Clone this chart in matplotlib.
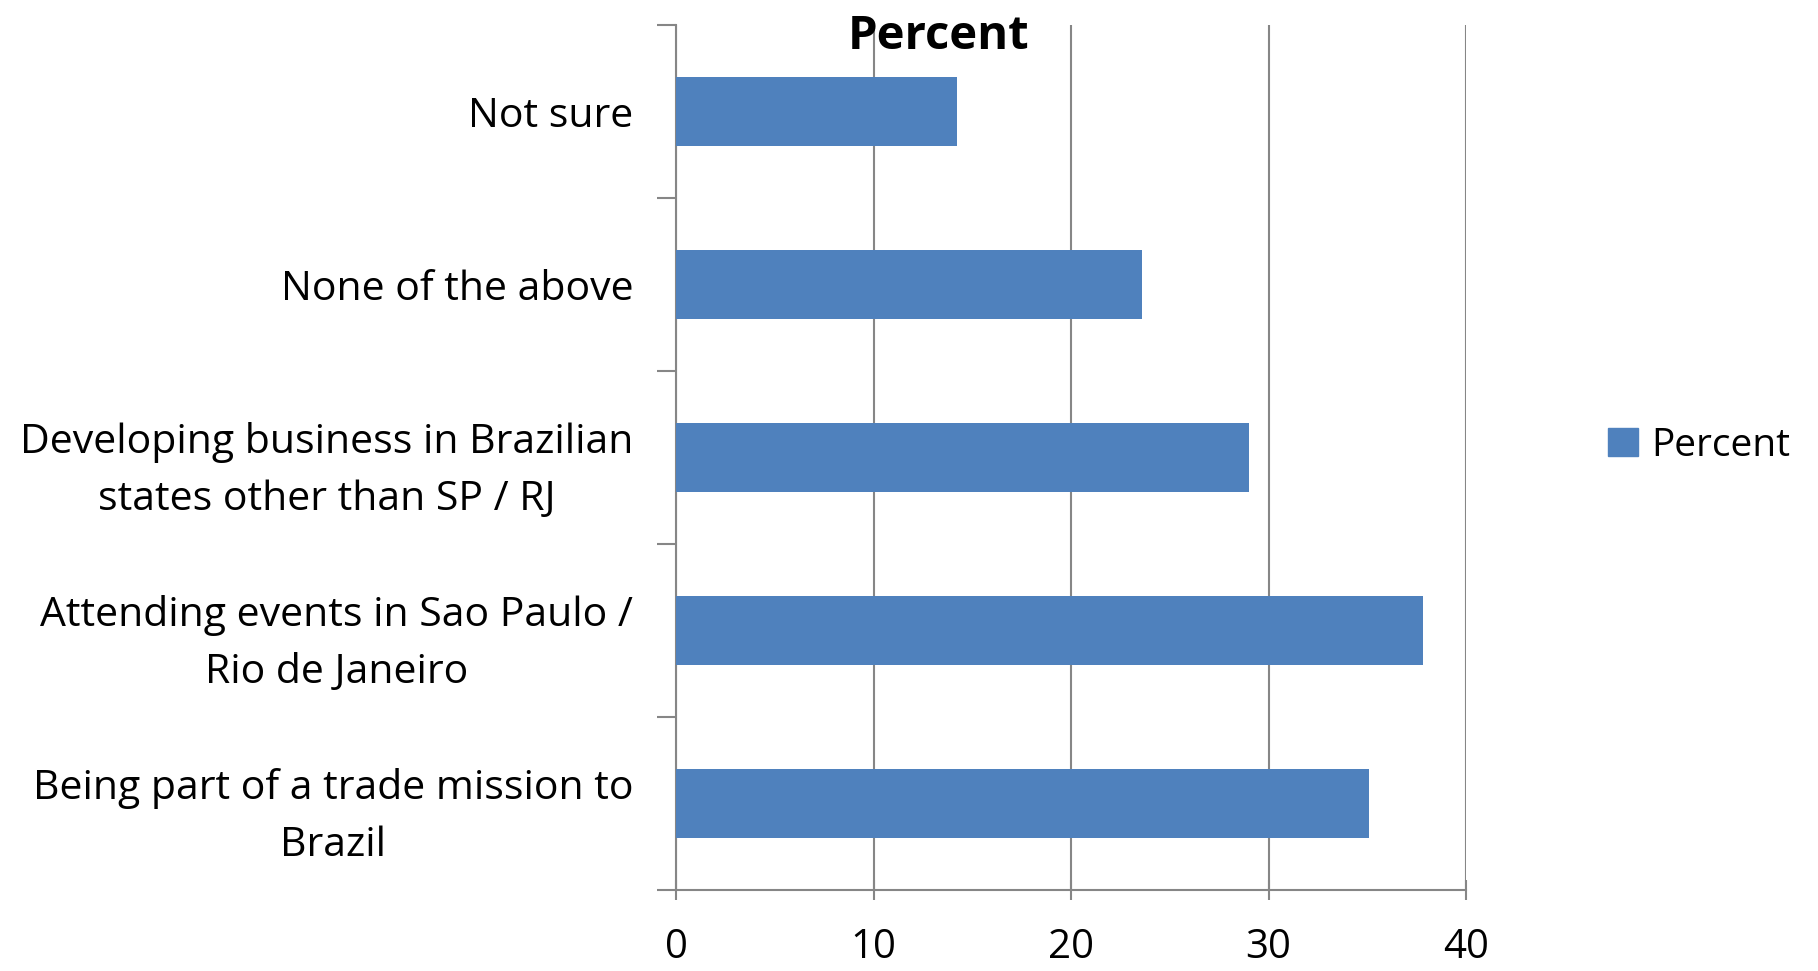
import matplotlib
matplotlib.use("Agg")
import matplotlib.pyplot as plt
from matplotlib.patches import Patch
import numpy as np

plt.rcParams['font.family'] = ['Open Sans', 'DejaVu Sans']

# data, bottom to top as drawn
categories = ["Being part of a trade mission to\nBrazil",
              "Attending events in Sao Paulo /\nRio de Janeiro",
              "Developing business in Brazilian\nstates other than SP / RJ",
              "None of the above",
              "Not sure"]
percent = [35.1, 37.8, 29.0, 23.6, 14.2]
xticks = [0, 10, 20, 30, 40]

bar_color = "#4F81BD"
grid_color = "#868686"

fig = plt.figure(figsize=(18.18, 9.71), dpi=100)
ax = fig.add_axes([0.372, 0.0834, 0.4344, 0.8906])

ypos = np.arange(len(categories))
ax.barh(ypos, percent, height=0.4, color=bar_color, zorder=3)

ax.set_xlim(0, 40)
ax.set_ylim(-0.5, len(categories) - 0.5)
ax.set_xticks(xticks)
ax.set_xticklabels([str(t) for t in xticks])
ax.xaxis.grid(True, color=grid_color, linewidth=1.5, zorder=0)

# category boundaries get the tick marks, centres get the labels
ax.set_yticks(np.arange(-0.5, len(categories), 1.0))
ax.set_yticklabels([])
ax.set_yticks(ypos, minor=True)
ax.set_yticklabels(categories, minor=True, multialignment="center",
                   linespacing=1.55)
ax.tick_params(axis="y", which="major", length=14, width=1.5,
               color=grid_color, direction="out")
ax.tick_params(axis="y", which="minor", length=0, pad=31, labelsize=29.5)
ax.tick_params(axis="x", length=14, width=1.5, color=grid_color,
               direction="inout", pad=20, labelsize=29)

for s in ["top", "right"]:
    ax.spines[s].set_visible(False)
for s in ["left", "bottom"]:
    ax.spines[s].set_color(grid_color)
    ax.spines[s].set_linewidth(1.5)

fig.text(0.516, 0.9495, "Percent", ha="center", va="baseline",
         fontsize=34, fontweight="bold")

fig.legend(handles=[Patch(color=bar_color, label="Percent")],
           loc="center left", bbox_to_anchor=(0.8655, 0.541),
           frameon=False, fontsize=28, handlelength=0.75,
           handleheight=0.75, handletextpad=0.35)

fig.savefig("out.png", dpi=100)
